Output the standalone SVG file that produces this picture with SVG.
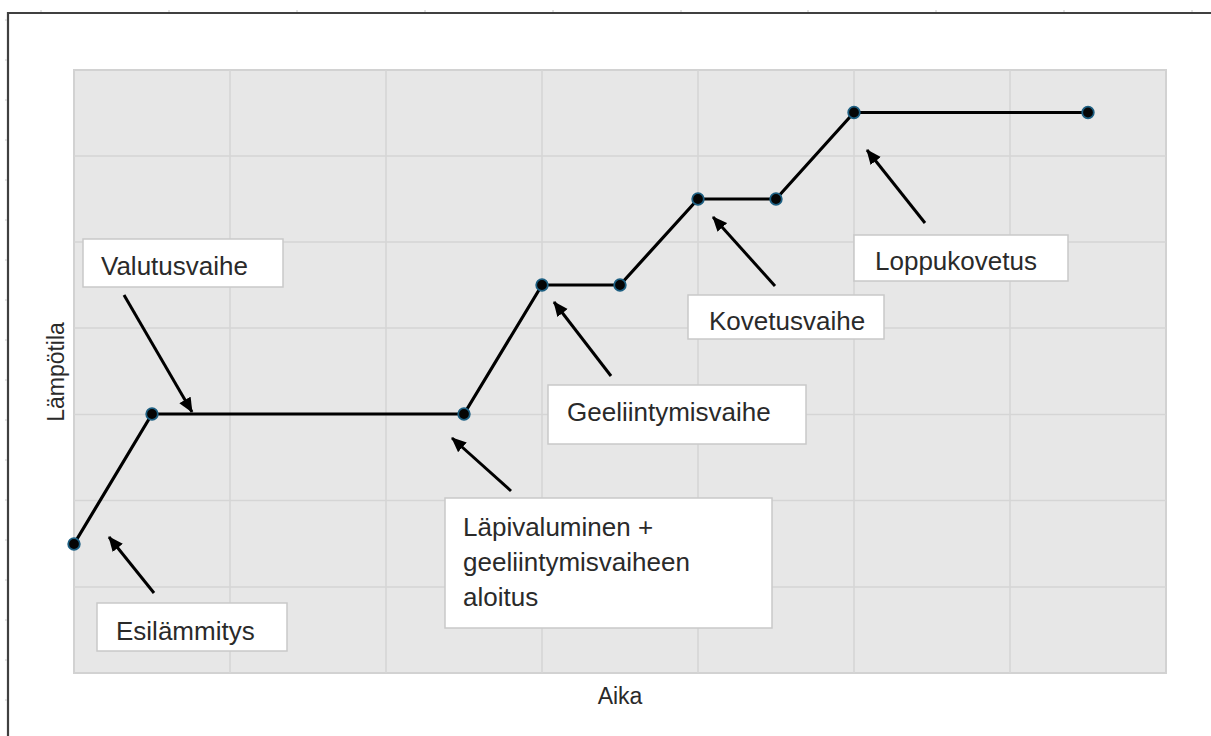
<svg xmlns="http://www.w3.org/2000/svg" width="1211" height="736" viewBox="0 0 1211 736">
<style>
  .grid { stroke: #d5d5d5; stroke-width: 1.5; fill: none; }
  .data { stroke: #000; stroke-width: 3.2; fill: none; stroke-linejoin: round; }
  .pt { fill: #050505; stroke: #1d5f82; stroke-width: 1.8; }
  .arrow { stroke: #000; stroke-width: 3; fill: none; marker-end: url(#ah); }
  .box { fill: #fff; stroke: #c9c9c9; stroke-width: 1.5; }
  .lbl { font-family: "Liberation Sans", Arial, sans-serif; font-size: 26px; fill: #2a2a2a; }
  .ax { font-family: "Liberation Sans", Arial, sans-serif; font-size: 23px; fill: #2a2a2a; }
  .tick { stroke: #c8c8c8; stroke-width: 1; }
</style>
<defs>
  <marker id="ah" markerUnits="userSpaceOnUse" markerWidth="16" markerHeight="14" refX="14" refY="7" orient="auto">
    <path d="M0,0.5 L15,7 L0,13.5 z" fill="#000"/>
  </marker>
</defs>
<rect width="1211" height="736" fill="#fff"/>
<g id="frame">
  <path d="M8,736 V13 H1211" fill="none" stroke="#404040" stroke-width="2.2"/>
  <g class="tick">
    <line x1="41" y1="10" x2="41" y2="12"/><line x1="169" y1="10" x2="169" y2="12"/>
    <line x1="297" y1="10" x2="297" y2="12"/><line x1="425" y1="10" x2="425" y2="12"/>
    <line x1="553" y1="10" x2="553" y2="12"/><line x1="681" y1="10" x2="681" y2="12"/>
    <line x1="808" y1="10" x2="808" y2="12"/><line x1="936" y1="10" x2="936" y2="12"/>
    <line x1="1064" y1="10" x2="1064" y2="12"/><line x1="1192" y1="10" x2="1192" y2="12"/>
    <line x1="5" y1="20" x2="7" y2="20"/><line x1="5" y1="60" x2="7" y2="60"/>
    <line x1="5" y1="100" x2="7" y2="100"/><line x1="5" y1="140" x2="7" y2="140"/>
    <line x1="5" y1="180" x2="7" y2="180"/><line x1="5" y1="220" x2="7" y2="220"/>
    <line x1="5" y1="260" x2="7" y2="260"/><line x1="5" y1="300" x2="7" y2="300"/>
    <line x1="5" y1="340" x2="7" y2="340"/><line x1="5" y1="380" x2="7" y2="380"/>
    <line x1="5" y1="420" x2="7" y2="420"/><line x1="5" y1="460" x2="7" y2="460"/>
    <line x1="5" y1="500" x2="7" y2="500"/><line x1="5" y1="540" x2="7" y2="540"/>
    <line x1="5" y1="580" x2="7" y2="580"/><line x1="5" y1="620" x2="7" y2="620"/>
    <line x1="5" y1="660" x2="7" y2="660"/><line x1="5" y1="700" x2="7" y2="700"/>
  </g>
</g>
<g id="plot">
  <rect x="74" y="70" width="1092" height="603" fill="#e7e7e7" stroke="#d2d2d2" stroke-width="2"/>
  <path class="grid" d="M230,70 V673 M386,70 V673 M542,70 V673 M698,70 V673 M854,70 V673 M1010,70 V673 M74,156 H1166 M74,242 H1166 M74,328 H1166 M74,414.5 H1166 M74,500.5 H1166 M74,587 H1166"/>
</g>
<g id="axis-labels">
  <text class="ax" x="620" y="704" text-anchor="middle">Aika</text>
  <text class="ax" transform="translate(64,372) rotate(-90)" text-anchor="middle" font-size="24">Lämpötila</text>
</g>
<g id="series">
  <polyline class="data" points="74,544 152,414 464,414 542,285 620,285 698,199 776,199 854,112.5 1088,112.5"/>
  <circle class="pt" cx="74" cy="544" r="5.8"/>
  <circle class="pt" cx="152" cy="414" r="5.8"/>
  <circle class="pt" cx="464" cy="414" r="5.8"/>
  <circle class="pt" cx="542" cy="285" r="5.8"/>
  <circle class="pt" cx="620" cy="285" r="5.8"/>
  <circle class="pt" cx="698" cy="199" r="5.8"/>
  <circle class="pt" cx="776" cy="199" r="5.8"/>
  <circle class="pt" cx="854" cy="112.5" r="5.8"/>
  <circle class="pt" cx="1088" cy="112.5" r="5.8"/>
</g>
<g id="connectors">
  <line class="arrow" x1="124" y1="295" x2="192" y2="412"/>
  <line class="arrow" x1="154" y1="593" x2="109" y2="537"/>
  <line class="arrow" x1="511" y1="491" x2="452" y2="438"/>
  <line class="arrow" x1="611" y1="376" x2="554" y2="302"/>
  <line class="arrow" x1="775" y1="286" x2="713" y2="217"/>
  <line class="arrow" x1="925" y1="223" x2="867" y2="150"/>
</g>
<g id="node-valutusvaihe">
  <rect class="box" x="83" y="239" width="200" height="48"/>
  <text class="lbl" x="101" y="275">Valutusvaihe</text>
</g>
<g id="node-esilammitys">
  <rect class="box" x="97" y="603" width="190" height="48"/>
  <text class="lbl" x="116" y="640">Esilämmitys</text>
</g>
<g id="node-lapivaluminen">
  <rect class="box" x="445" y="498" width="327" height="130"/>
  <text class="lbl" x="463" y="536">Läpivaluminen +</text>
  <text class="lbl" x="463" y="571">geeliintymisvaiheen</text>
  <text class="lbl" x="463" y="606">aloitus</text>
</g>
<g id="node-geeliintymisvaihe">
  <rect class="box" x="548" y="385" width="258" height="59"/>
  <text class="lbl" x="567" y="421">Geeliintymisvaihe</text>
</g>
<g id="node-kovetusvaihe">
  <rect class="box" x="688" y="295" width="196" height="44"/>
  <text class="lbl" x="709" y="330">Kovetusvaihe</text>
</g>
<g id="node-loppukovetus">
  <rect class="box" x="854" y="235" width="214" height="46"/>
  <text class="lbl" x="875" y="270">Loppukovetus</text>
</g>
</svg>
